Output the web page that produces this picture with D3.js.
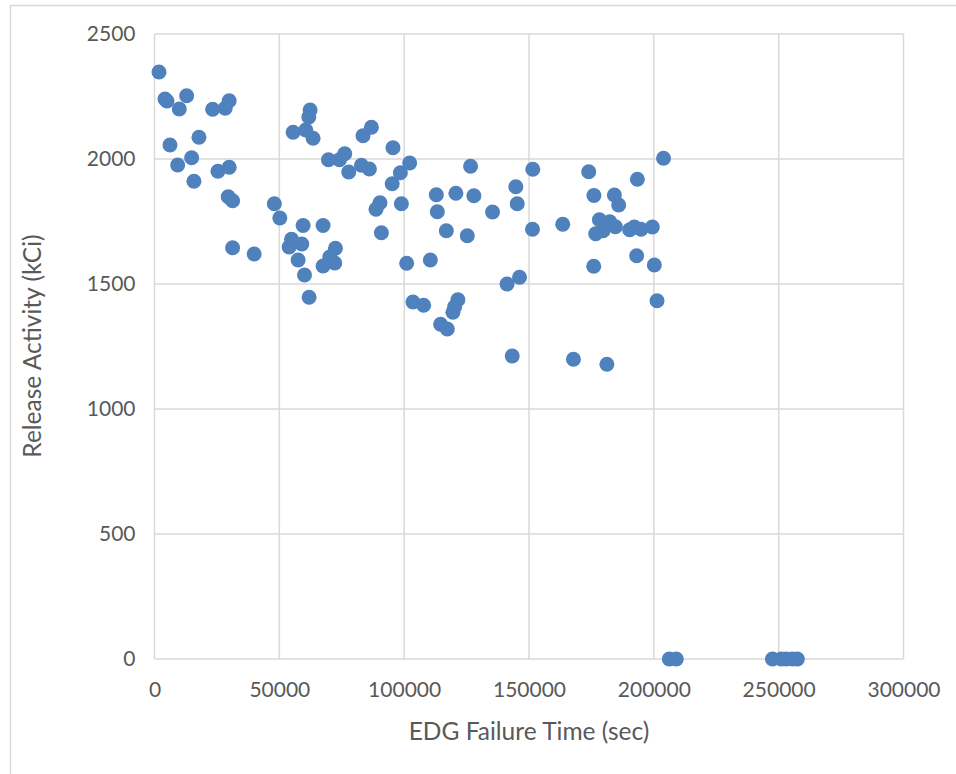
<!DOCTYPE html>
<html>
<head>
<meta charset="utf-8">
<script src="https://cdn.jsdelivr.net/npm/d3@7"></script>
<style>
  body { margin: 0; background: #fff; }
  svg text { font-family: Lato, "Open Sans", sans-serif; fill: #595959; }
</style>
</head>
<body>
<div id="chart"></div>
<script>
// EDG failure time (sec) vs release activity (kCi)
var failTime = [
  1800, 4200, 5000, 12880, 9920, 23280, 28320, 29920, 6200, 17800,
  9280, 14880, 15800, 25400, 29920, 29520, 31280, 31280, 39920, 48000,
  50200, 59520, 67520, 54880, 53920, 59000, 57520, 60080, 61920, 67520,
  70200, 72200, 72480, 55520, 60600, 63520, 62320, 61800, 69680, 74080,
  76200, 77800, 83520, 86880, 82880, 86080, 95520, 95200, 98480, 102200,
  90320, 88720, 98880, 90880, 101000, 110480, 103520, 107800, 112880, 120720,
  127920, 126600, 113280, 116880, 125280, 135400, 144720, 145280, 151520, 151400,
  163520, 141200, 146200, 121520, 120200, 119520, 114600, 117280, 143280, 167800,
  181200, 173920, 203880, 193400, 176000, 184200, 185920, 178200, 182320, 184600,
  176720, 179680, 190320, 192200, 194880, 199400, 175920, 193120, 200200, 201280,
  206200, 209000, 247500, 251000, 253000, 255500, 257500
];
var releaseAct = [
  2348, 2240, 2232, 2253, 2200, 2199, 2203, 2233, 2056, 2087,
  1976, 2005, 1911, 1951, 1967, 1849, 1833, 1645, 1620, 1821,
  1764, 1734, 1734, 1679, 1648, 1660, 1596, 1536, 1447, 1572,
  1608, 1584, 1643, 2107, 2116, 2083, 2196, 2168, 1997, 1997,
  2021, 1948, 2093, 2127, 1975, 1960, 2045, 1901, 1945, 1984,
  1825, 1799, 1821, 1705, 1583, 1596, 1428, 1415, 1857, 1863,
  1853, 1971, 1789, 1713, 1693, 1788, 1889, 1821, 1959, 1719,
  1739, 1500, 1527, 1437, 1409, 1387, 1339, 1320, 1212, 1199,
  1179, 1949, 2003, 1919, 1854, 1856, 1816, 1757, 1749, 1729,
  1701, 1713, 1717, 1728, 1719, 1728, 1571, 1613, 1576, 1433,
  0, 0, 0, 0, 0, 0, 0
];
var xTicks = [0, 50000, 100000, 150000, 200000, 250000, 300000];
var yTicks = [0, 500, 1000, 1500, 2000, 2500];

var width = 956, height = 774;
var margin = {left: 154.5, right: 52.5, top: 34, bottom: 115};
var gridColor = "#d9d9d9";

var svg = d3.select("#chart").append("svg")
    .attr("width", width).attr("height", height);

// outer chart frame (runs off the right/bottom of the picture)
svg.append("rect").attr("x", 10.5).attr("y", 5.5)
    .attr("width", 1000).attr("height", 1000)
    .attr("fill", "none").attr("stroke", gridColor).attr("stroke-width", 1.5);

var x = d3.scaleLinear().domain([0, 300000]).range([margin.left, width - margin.right]);
var y = d3.scaleLinear().domain([0, 2500]).range([height - margin.bottom, margin.top]);

// gridlines
svg.append("g").selectAll("line").data(yTicks).enter().append("line")
    .attr("x1", x(0)).attr("x2", x(300000))
    .attr("y1", function(d){ return y(d); }).attr("y2", function(d){ return y(d); })
    .attr("stroke", gridColor).attr("stroke-width", 1.5);
svg.append("g").selectAll("line").data(xTicks).enter().append("line")
    .attr("y1", y(0)).attr("y2", y(2500))
    .attr("x1", function(d){ return x(d); }).attr("x2", function(d){ return x(d); })
    .attr("stroke", gridColor).attr("stroke-width", 1.5);

// axes, labels only
var xAxis = svg.append("g").attr("transform", "translate(0," + y(0) + ")")
    .call(d3.axisBottom(x).tickValues(xTicks).tickSize(0).tickPadding(23).tickFormat(d3.format("d")));
var yAxis = svg.append("g").attr("transform", "translate(" + x(0) + ",0)")
    .call(d3.axisLeft(y).tickValues(yTicks).tickSize(0).tickPadding(19).tickFormat(d3.format("d")));
[xAxis, yAxis].forEach(function(a) {
    a.select(".domain").remove();
    a.selectAll("text").attr("font-size", 21).attr("font-family", null);
});

// points
svg.append("g").selectAll("circle").data(failTime).enter().append("circle")
    .attr("cx", function(d){ return x(d); })
    .attr("cy", function(d, i){ return y(releaseAct[i]); })
    .attr("r", 7.5)
    .attr("fill", "#4f81bd");

// axis titles
svg.append("text").attr("x", 529).attr("y", 740)
    .attr("text-anchor", "middle").attr("font-size", 24.5)
    .text("EDG Failure Time (sec)");
svg.append("text").attr("transform", "translate(41,346) rotate(-90)")
    .attr("text-anchor", "middle").attr("font-size", 24.5)
    .text("Release Activity (kCi)");
</script>
</body>
</html>
